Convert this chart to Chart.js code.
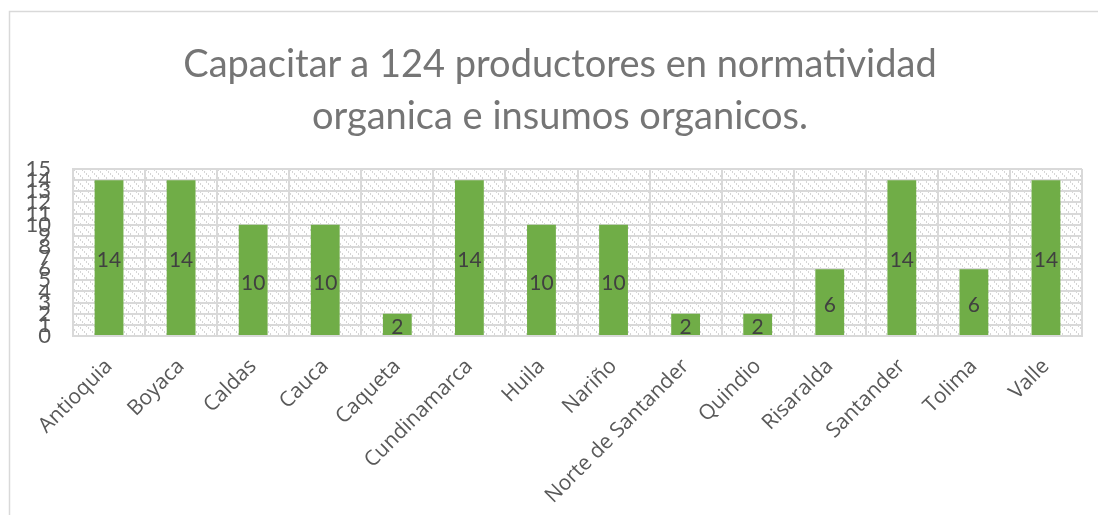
<!DOCTYPE html>
<html>
<head>
<meta charset="utf-8">
<script src="https://cdn.jsdelivr.net/npm/chart.js@4.4.1/dist/chart.umd.min.js"></script>
<style>
html,body{margin:0;padding:0;background:#fff;}
#wrap{position:absolute;left:0;top:0;width:1098px;height:515px;overflow:hidden;}
#c{position:absolute;left:0;top:0;}
#title{position:absolute;left:0;top:36px;width:1120px;text-align:center;font-family:Lato,"Open Sans",sans-serif;font-size:38px;line-height:52px;color:#757575;white-space:nowrap;}
</style>
</head>
<body>
<div id="wrap"><canvas id="c" width="1098" height="515"></canvas><div id="title"></div></div>
<script>
const titleLines = ["Capacitar a 124 productores en normatividad", "organica e insumos organicos."];
const categories = ["Antioquia","Boyaca","Caldas","Cauca","Caqueta","Cundinamarca","Huila","Nariño","Norte de Santander","Quindio","Risaralda","Santander","Tolima","Valle"];
const values = [14,14,10,10,2,14,10,10,2,2,6,14,6,14];
const yTicks = [0,1,2,3,4,5,6,7,8,9,10,11,12,13,14,15];

const titleEl = document.getElementById('title');
titleLines.forEach((t,i)=>{ if(i) titleEl.appendChild(document.createElement('br')); titleEl.appendChild(document.createTextNode(t)); });

function makePattern(ctx){
  const t = document.createElement('canvas');
  t.width = 8; t.height = 8;
  const g = t.getContext('2d');
  g.fillStyle = '#ffffff'; g.fillRect(0,0,8,8);
  g.fillStyle = '#d6d6d6';
  for (let i=0;i<8;i++){ if (i % 2 === 0) g.fillRect(i,i,1,1); else g.fillRect((i+1)%8,i,1,1); }
  return ctx.createPattern(t,'repeat');
}

const bgPlugin = {
  id:'bgPlugin',
  beforeDraw(chart){
    const {ctx, chartArea:a} = chart;
    ctx.save();
    ctx.fillStyle = '#ffffff';
    ctx.fillRect(0,0,chart.width,chart.height);
    ctx.strokeStyle = '#d9d9d9';
    ctx.lineWidth = 1.5;
    ctx.beginPath();
    ctx.moveTo(9.5, chart.height);
    ctx.lineTo(9.5, 11.5);
    ctx.lineTo(chart.width, 11.5);
    ctx.stroke();
    ctx.fillStyle = makePattern(ctx);
    ctx.fillRect(a.left, a.top, a.right-a.left, a.bottom-a.top);
    ctx.restore();
  }
};

const labelPlugin = {
  id:'labelPlugin',
  afterDatasetsDraw(chart){
    const ctx = chart.ctx;
    const meta = chart.getDatasetMeta(0);
    ctx.save();
    ctx.font = '21px Lato, "Open Sans", sans-serif';
    ctx.fillStyle = '#404040';
    ctx.textAlign = 'center';
    ctx.textBaseline = 'middle';
    meta.data.forEach((bar,i)=>{
      ctx.fillText(String(values[i]), bar.x, (bar.y + bar.base)/2 + 3);
    });
    ctx.restore();
  }
};

new Chart(document.getElementById('c'), {
  type:'bar',
  data:{
    labels: categories,
    datasets:[{
      data: values,
      backgroundColor:'#70ad47',
      borderWidth:0,
      barPercentage:0.4,
      categoryPercentage:1.0
    }]
  },
  options:{
    responsive:false,
    animation:false,
    devicePixelRatio:1,
    layout:{padding:{left:0,right:16,top:169,bottom:0}},
    plugins:{
      legend:{display:false},
      tooltip:{enabled:false},
      title:{display:false}
    },
    scales:{
      x:{
        grid:{color:'#d9d9d9', lineWidth:2, drawTicks:false, offset:true},
        border:{color:'#d9d9d9', width:2},
        ticks:{
          color:'#595959',
          font:{family:'Open Sans', size:21},
          minRotation:45, maxRotation:45,
          autoSkip:false,
          padding:18
        },
        afterFit(s){ s.height = 179; }
      },
      y:{
        min:0, max:15,
        afterBuildTicks(s){ s.ticks = yTicks.map(v=>({value:v})); },
        grid:{color:'#d9d9d9', lineWidth:2, drawTicks:false},
        border:{color:'#d9d9d9', width:2},
        ticks:{
          color:'#595959',
          font:{family:'Lato, "Open Sans", sans-serif', size:22},
          autoSkip:false,
          padding:22,
          stepSize:1
        },
        afterFit(s){ s.width = 73; }
      }
    }
  },
  plugins:[bgPlugin, labelPlugin]
});
</script>
</body>
</html>
